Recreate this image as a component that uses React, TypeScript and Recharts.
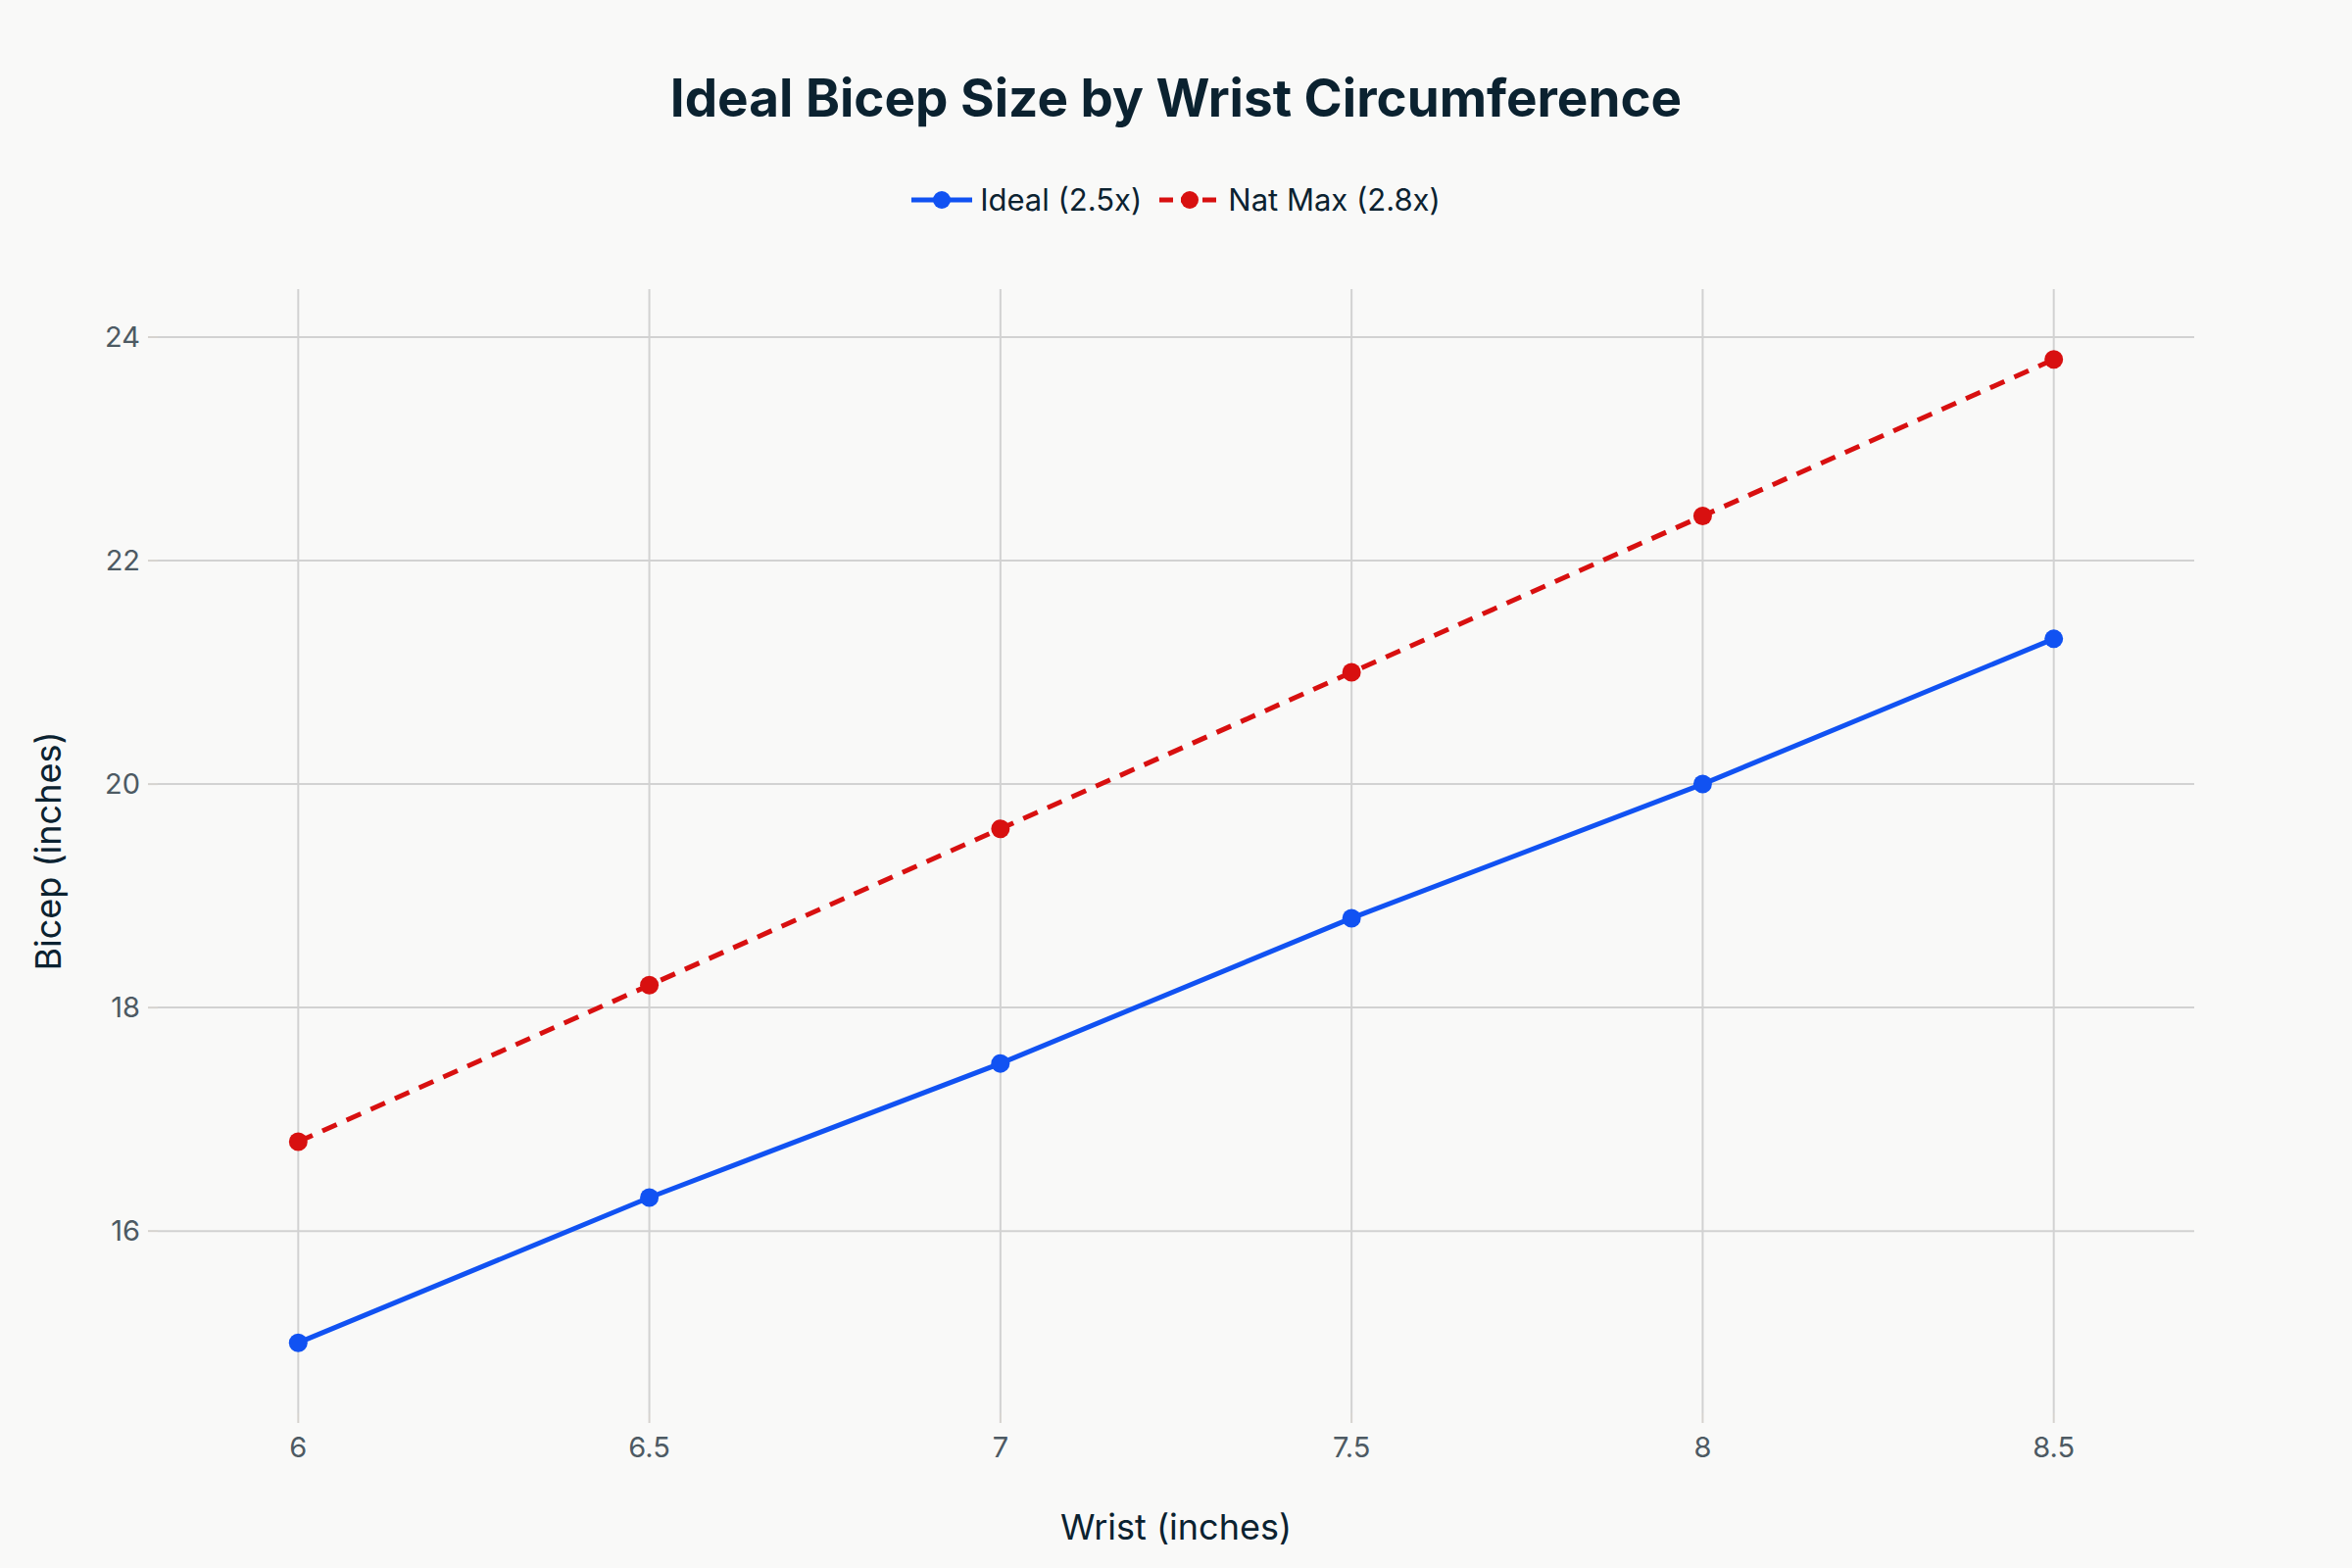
import React from "react";
import { LineChart, Line, XAxis, YAxis, CartesianGrid } from "recharts";

const wrist = [6, 6.5, 7, 7.5, 8, 8.5];
const ideal = [15, 16.3, 17.5, 18.8, 20, 21.3];
const natMax = [16.8, 18.2, 19.6, 21, 22.4, 23.8];
const xTicks = [6, 6.5, 7, 7.5, 8, 8.5];
const yTicks = [16, 18, 20, 22, 24];

const data = wrist.map((w, i) => ({ wrist: w, ideal: ideal[i], natMax: natMax[i] }));

const BLUE = "#1152f2";
const RED = "#d81010";
const FONT = "Inter, 'Noto Sans', sans-serif";

const legendItems = [
  { label: "Ideal (2.5x)", color: BLUE, dash: false },
  { label: "Nat Max (2.8x)", color: RED, dash: true },
];

export default function App() {
  return (
    <div style={{ position: "absolute", left: 0, top: 0, width: 2400, height: 1600, background: "#f9f9f8", fontFamily: FONT }}>
      <div style={{ position: "absolute", top: 68, width: 2400, textAlign: "center", fontSize: 53, fontWeight: 700, color: "#0b2230" }}>
        Ideal Bicep Size by Wrist Circumference
      </div>
      {/* legend kept outside the chart so it does not push the plot area down */}
      <div style={{ position: "absolute", top: 185, width: 2400, display: "flex", justifyContent: "center", gap: 18, fontSize: 31, color: "#0b2230" }}>
        {legendItems.map((it) => (
          <div key={it.label} style={{ display: "flex", alignItems: "center", gap: 8 }}>
            <svg width={62} height={20}>
              <line x1={0} y1={10} x2={62} y2={10} stroke={it.color} strokeWidth={5} strokeDasharray={it.dash ? "14 8" : undefined} />
              <circle cx={31} cy={10} r={9} fill={it.color} />
            </svg>
            <span>{it.label}</span>
          </div>
        ))}
      </div>
      <LineChart width={2400} height={1600} data={data} margin={{ top: 295, right: 161, bottom: 58, left: 61 }}>
        <CartesianGrid stroke="#d2d2d2" strokeWidth={2} syncWithTicks />
        <XAxis
          dataKey="wrist"
          type="number"
          domain={[5.8, 8.7]}
          ticks={xTicks}
          height={100}
          axisLine={false}
          tickLine={{ stroke: "#d6d3cf", strokeWidth: 2 }}
          tickSize={10}
          tickMargin={14}
          tick={{ fill: "#4d5a63", fontSize: 29, fontFamily: FONT }}
          label={{ value: "Wrist (inches)", position: "insideBottom", offset: -29, fill: "#0b2230", fontSize: 36, fontFamily: FONT }}
        />
        <YAxis
          type="number"
          domain={[14.37, 24.43]}
          ticks={yTicks}
          width={100}
          axisLine={false}
          tickLine={{ stroke: "#d6d3cf", strokeWidth: 2 }}
          tickSize={10}
          tickMargin={8}
          tick={{ fill: "#4d5a63", fontSize: 29, fontFamily: FONT }}
          label={{ value: "Bicep (inches)", angle: -90, position: "insideLeft", offset: -12, fill: "#0b2230", fontSize: 36, fontFamily: FONT, style: { textAnchor: "middle" } }}
        />
        <Line
          dataKey="ideal"
          name="Ideal (2.5x)"
          stroke={BLUE}
          strokeWidth={5}
          dot={{ r: 9.5, fill: BLUE, stroke: "none" }}
          activeDot={false}
          isAnimationActive={false}
        />
        <Line
          dataKey="natMax"
          name="Nat Max (2.8x)"
          stroke={RED}
          strokeWidth={5}
          strokeDasharray="16 11"
          dot={{ r: 9.5, fill: RED, stroke: "none" }}
          activeDot={false}
          isAnimationActive={false}
        />
      </LineChart>
    </div>
  );
}
